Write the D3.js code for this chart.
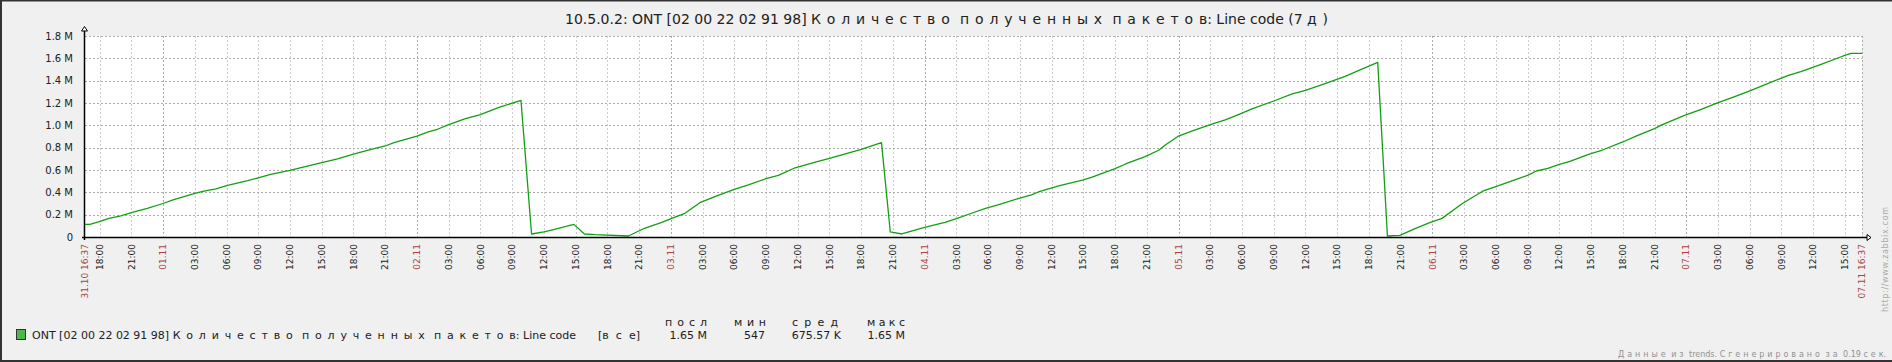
<!DOCTYPE html>
<html>
<head>
<meta charset="utf-8">
<script src="https://cdn.jsdelivr.net/npm/d3@7"></script>
<style>
  html, body { margin: 0; padding: 0; background: #f0f0f0; }
  svg { display: block; }
  text { font-family: "DejaVu Sans", sans-serif; white-space: pre; }
</style>
</head>
<body>
<div id="chart"></div>
<script>
// period shown on the graph
const rangeStart = "31.10 16:37";
const rangeEnd = "07.11 16:37";

// trend points, value in millions of packets
const times = [
  "31.10 16:37", "31.10 17:05", "31.10 17:58", "31.10 18:53", "31.10 20:00", "31.10 21:00", "31.10 22:30",
  "01.11 00:00", "01.11 00:52", "01.11 03:00", "01.11 03:52", "01.11 05:00", "01.11 06:00", "01.11 08:00",
  "01.11 09:00", "01.11 10:10", "01.11 12:00", "01.11 13:20", "01.11 15:00", "01.11 16:30", "01.11 18:00",
  "01.11 19:40", "01.11 21:00", "01.11 21:50",
  "02.11 00:00", "02.11 01:00", "02.11 02:00", "02.11 03:00", "02.11 04:35", "02.11 06:00", "02.11 07:45",
  "02.11 09:50", "02.11 10:50", "02.11 12:00", "02.11 13:00", "02.11 14:50", "02.11 15:50", "02.11 16:50",
  "02.11 20:00", "02.11 21:30", "02.11 23:05",
  "03.11 00:05", "03.11 01:20", "03.11 02:45", "03.11 04:10", "03.11 06:00", "03.11 07:20", "03.11 09:00",
  "03.11 10:10", "03.11 11:45", "03.11 13:35", "03.11 15:00", "03.11 16:25", "03.11 18:00", "03.11 19:55",
  "03.11 20:45", "03.11 21:50",
  "04.11 00:00", "04.11 01:55", "04.11 03:00", "04.11 04:30", "04.11 05:45", "04.11 07:00", "04.11 08:55",
  "04.11 10:10", "04.11 10:45", "04.11 12:40", "04.11 14:55", "04.11 15:50", "04.11 18:00", "04.11 19:00",
  "04.11 20:50", "04.11 22:10", "04.11 22:45",
  "05.11 00:00", "05.11 01:15", "05.11 03:00", "05.11 04:25", "05.11 05:40", "05.11 07:00", "05.11 09:00",
  "05.11 10:45", "05.11 12:00", "05.11 13:55", "05.11 15:45", "05.11 17:00", "05.11 18:50", "05.11 19:45",
  "05.11 20:55", "05.11 22:25", "05.11 23:45",
  "06.11 00:55", "06.11 02:50", "06.11 04:45", "06.11 06:00", "06.11 07:55", "06.11 09:00", "06.11 09:50",
  "06.11 10:55", "06.11 12:00", "06.11 13:00", "06.11 14:50", "06.11 16:05", "06.11 18:00", "06.11 19:15",
  "06.11 21:00", "06.11 21:45", "06.11 23:50",
  "07.11 01:25", "07.11 02:50", "07.11 04:35", "07.11 05:50", "07.11 07:45", "07.11 09:35", "07.11 10:50",
  "07.11 12:45", "07.11 14:50", "07.11 15:35", "07.11 16:37"
];
const values = [
  0.113, 0.113, 0.137, 0.167, 0.190, 0.218, 0.257,
  0.300, 0.330, 0.390, 0.410, 0.430, 0.460, 0.504,
  0.530, 0.560, 0.597, 0.627, 0.666, 0.700, 0.743,
  0.785, 0.815, 0.845,
  0.904, 0.940, 0.967, 1.006, 1.060, 1.096, 1.160,
  1.224, 0.027, 0.045, 0.069, 0.113, 0.027, 0.021,
  0.009, 0.078, 0.128,
  0.167, 0.212, 0.307, 0.361, 0.427, 0.466, 0.522,
  0.552, 0.620, 0.669, 0.704, 0.743, 0.785, 0.845,
  0.045, 0.027,
  0.087, 0.131, 0.164, 0.215, 0.257, 0.290, 0.346,
  0.379, 0.403, 0.457, 0.510, 0.537, 0.612, 0.654,
  0.719, 0.779, 0.824,
  0.904, 0.949, 1.006, 1.048, 1.096, 1.149, 1.218,
  1.281, 1.313, 1.376, 1.439, 1.490, 1.564, 0.009,
  0.015, 0.078, 0.128,
  0.167, 0.300, 0.410, 0.451, 0.516, 0.552, 0.591,
  0.615, 0.651, 0.678, 0.743, 0.779, 0.851, 0.904,
  0.970, 1.006, 1.090,
  1.143, 1.197, 1.257, 1.301, 1.376, 1.445, 1.481,
  1.546, 1.621, 1.645, 1.645
];

const yTickValues = [0, 0.2, 0.4, 0.6, 0.8, 1.0, 1.2, 1.4, 1.6, 1.8];

const legendHeaders = ["посл", "мин", "сред", "макс"];
const legendValues = ["1.65 M", "547", "675.57 K", "1.65 M"];

const width = 1892, height = 362;
const plot = { left: 85, right: 1862, top: 36, bottom: 237 };

const textColor = "#202020", highlight = "#aa4444";

const svg = d3.select("#chart")
  .append("svg")
  .attr("width", width)
  .attr("height", height);

svg.append("rect")
  .attr("width", width).attr("height", height)
  .attr("fill", "#f0f0f0");

// dark frame
svg.append("path")
  .attr("d", `M1,${height} L1,0.5 L${width},0.5 M0,${height - 1} L${width},${height - 1}`)
  .attr("fill", "none")
  .attr("stroke", "#333")
  .attr("stroke-width", 2);

const parse = d3.utcParse("%d.%m %H:%M");
const start = parse(rangeStart), end = parse(rangeEnd);
const data = times.map((t, i) => ({ t: parse(t), v: values[i] }));

const x = d3.scaleUtc().domain([start, end]).range([plot.left, plot.right]);
const y = d3.scaleLinear().domain([0, 1.8]).range([plot.bottom, plot.top]);

svg.append("rect")
  .attr("x", plot.left).attr("y", plot.top)
  .attr("width", plot.right - plot.left).attr("height", plot.bottom - plot.top)
  .attr("fill", "#fff");

// vertical grid every 3 hours, darker at midnight
const hourTicks = d3.utcHour.every(3).range(start, end);
const isMidnight = d => d.getUTCHours() === 0;

svg.append("g")
  .selectAll("line")
  .data(hourTicks)
  .join("line")
  .attr("x1", d => Math.round(x(d)) + 0.5).attr("x2", d => Math.round(x(d)) + 0.5)
  .attr("y1", plot.top).attr("y2", plot.bottom)
  .attr("stroke", d => isMidnight(d) ? "#aaaaaa" : "#cccccc")
  .attr("stroke-dasharray", "2,2");

svg.append("line")
  .attr("x1", plot.right + 0.5).attr("x2", plot.right + 0.5)
  .attr("y1", plot.top).attr("y2", plot.bottom)
  .attr("stroke", "#aaaaaa").attr("stroke-dasharray", "2,2");

// horizontal grid
svg.append("g")
  .selectAll("line")
  .data(yTickValues.filter(v => v > 0))
  .join("line")
  .attr("x1", plot.left).attr("x2", plot.right)
  .attr("y1", d => Math.round(y(d)) + 0.5).attr("y2", d => Math.round(y(d)) + 0.5)
  .attr("stroke", "#aaaaaa")
  .attr("stroke-dasharray", "2,2");

// data line
const line = d3.line().x(d => x(d.t)).y(d => y(d.v));
svg.append("path")
  .datum(data)
  .attr("d", line)
  .attr("fill", "none")
  .attr("stroke", "#11a011")
  .attr("stroke-width", 1.3)
  .attr("stroke-linejoin", "round");

// axes with open arrows
const axisG = svg.append("g").attr("stroke", "#000").attr("fill", "none");
axisG.append("line")
  .attr("x1", plot.left - 0.5).attr("x2", plot.left - 0.5)
  .attr("y1", plot.top - 6).attr("y2", plot.bottom + 3)
  .attr("stroke-width", 1.5);
axisG.append("line")
  .attr("x1", plot.left - 3).attr("x2", plot.right + 5)
  .attr("y1", plot.bottom + 0.5).attr("y2", plot.bottom + 0.5)
  .attr("stroke-width", 1.5);
axisG.append("path")
  .attr("d", `M${plot.left - 3.5},${plot.top - 5} L${plot.left - 0.5},${plot.top - 9.5} L${plot.left + 2.5},${plot.top - 5} Z`)
  .attr("fill", "#fff");
axisG.append("path")
  .attr("d", `M${plot.right + 5},${plot.bottom - 2.5} L${plot.right + 9},${plot.bottom + 0.5} L${plot.right + 5},${plot.bottom + 3.5} Z`)
  .attr("fill", "#fff");

// y labels
svg.append("g")
  .selectAll("text")
  .data(yTickValues)
  .join("text")
  .attr("x", 73)
  .attr("y", d => y(d))
  .attr("dy", "0.35em")
  .attr("text-anchor", "end")
  .attr("font-size", 10)
  .attr("fill", textColor)
  .text(d => d === 0 ? "0" : d.toFixed(1) + " M");

// x labels, rotated
const fmtDate = d3.utcFormat("%d.%m"), fmtHour = d3.utcFormat("%H:%M"), fmtFull = d3.utcFormat("%d.%m %H:%M");
const xLabels = hourTicks.map(d => ({ t: d, label: isMidnight(d) ? fmtDate(d) : fmtHour(d), red: isMidnight(d) }))
  .concat([{ t: start, label: fmtFull(start), red: true }, { t: end, label: fmtFull(end), red: true }]);

svg.append("g")
  .selectAll("text")
  .data(xLabels)
  .join("text")
  .attr("transform", d => `translate(${x(d.t)},244) rotate(-90)`)
  .attr("dy", "0.35em")
  .attr("text-anchor", "end")
  .attr("font-family", "'DejaVu Sans Mono', monospace")
  .attr("font-size", 9)
  .attr("fill", d => d.red ? highlight : textColor)
  .text(d => d.label);

// text whose Cyrillic letters are drawn spread out, fitted to a width;
// spaces between spread words are kept plain
function spreadText(xPos, yPos, parts, target, size, color) {
  const t = svg.append("text")
    .attr("x", xPos).attr("y", yPos)
    .attr("font-size", size)
    .attr("fill", color);
  const pieces = [];
  parts.forEach(([s, spread]) => {
    if (!spread) { pieces.push([s, false]); return; }
    s.split(" ").forEach((w, i) => {
      if (i > 0) pieces.push([" ", false]);
      pieces.push([w, true]);
    });
  });
  pieces.forEach(([s, spread]) => t.append("tspan").text(s).classed("spread", spread));
  const natural = t.node().getComputedTextLength();
  const n = d3.sum(pieces, ([s, spread]) => spread ? s.length : 0);
  if (n > 0 && target > natural) {
    t.selectAll("tspan.spread").attr("letter-spacing", (target - natural) / n);
  }
  return t;
}

// title
spreadText(565, 24, [
  ["10.5.0.2: ONT [02 00 22 02 91 98] ", false],
  ["Количество полученных пакето", true],
  ["в: Line code (7 ", false],
  ["д", true],
  [")", false]
], 763, 14, textColor);

// legend
svg.append("rect")
  .attr("x", 16.5).attr("y", 329.5)
  .attr("width", 9).attr("height", 10)
  .attr("fill", "#4cb84c")
  .attr("stroke", "#333");

spreadText(32, 339, [
  ["ONT [02 00 22 02 91 98] ", false],
  ["Количество полученных пакето", true],
  ["в: Line code", false]
], 544, 11, textColor);

spreadText(598, 339, [["[", false], ["вс", true], ["е]", false]], 42, 11, textColor);

const colStart = [665, 734, 792, 867];
const colWidth = [42, 32, 46, 38];
const colEnd = [707, 765, 841, 905];
legendHeaders.forEach((h, i) => {
  spreadText(colStart[i], 326, [[h.slice(0, -1), true], [h.slice(-1), false]], colWidth[i], 11, textColor);
});
svg.append("g")
  .selectAll("text")
  .data(legendValues)
  .join("text")
  .attr("x", (d, i) => colEnd[i])
  .attr("y", 339)
  .attr("text-anchor", "end")
  .attr("font-size", 11)
  .attr("fill", textColor)
  .text(d => d);

// footer
spreadText(1618, 357, [
  ["Данные из", true],
  [" trends. ", false],
  ["Сгенерировано за", true],
  [" 0.19 ", false],
  ["се", true],
  ["к.", false]
], 268, 8, "#909090");

svg.append("text")
  .attr("transform", "translate(1888,312) rotate(-90)")
  .attr("font-family", "'DejaVu Sans Mono', monospace")
  .attr("font-size", 8)
  .attr("fill", "#aaaaaa")
  .attr("textLength", 105)
  .text("http://www.zabbix.com");
</script>
</body>
</html>
